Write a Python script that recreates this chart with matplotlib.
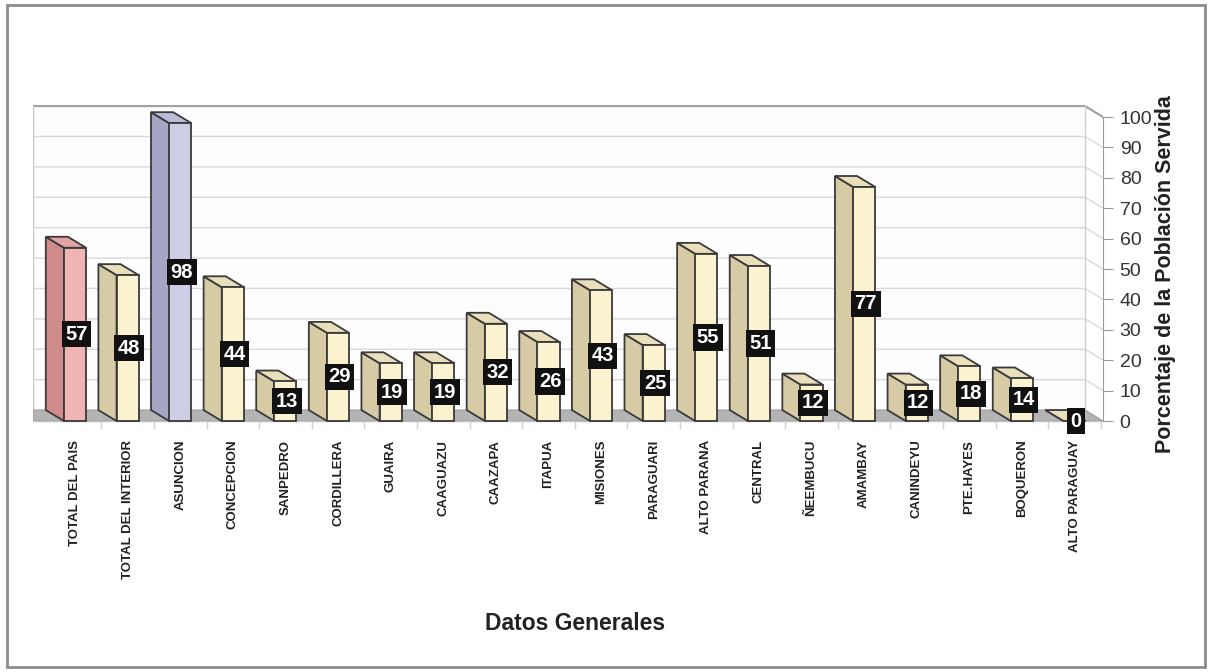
import matplotlib.pyplot as plt
from matplotlib.patches import Polygon, Rectangle
from matplotlib import font_manager as fm

# data
departamentos = ['TOTAL DEL PAIS', 'TOTAL DEL INTERIOR', 'ASUNCION', 'CONCEPCION',
                 'SANPEDRO', 'CORDILLERA', 'GUAIRA', 'CAAGUAZU', 'CAAZAPA', 'ITAPUA',
                 'MISIONES', 'PARAGUARI', 'ALTO PARANA', 'CENTRAL', 'ÑEEMBUCU',
                 'AMAMBAY', 'CANINDEYU', 'PTE.HAYES', 'BOQUERON', 'ALTO PARAGUAY']
porcentaje = [57, 48, 98, 44, 13, 29, 19, 19, 32, 26, 43, 25, 55, 51, 12, 77, 12, 18, 14, 0]
y_ticks = list(range(0, 101, 10))

# colours: (front, side, top)
CREAM = ('#fbf3cf', '#d6cba4', '#e9dfba')
PINK = ('#f0b4b4', '#d08c8c', '#e4a4a4')
LAVENDER = ('#cdcde6', '#a6a6c4', '#bcbcd8')
bar_colors = {0: PINK, 2: LAVENDER}

# font: try a narrow one, fall back to Liberation Sans
try:
    fm.findfont('Liberation Sans Narrow', fallback_to_default=False)
    NARROW = 'Liberation Sans Narrow'
    has_narrow = True
except Exception:
    NARROW = 'Liberation Sans'
    has_narrow = False
plt.rcParams['font.family'] = ['Liberation Sans', 'DejaVu Sans']

W, H = 1212, 672
fig = plt.figure(figsize=(W / 100, H / 100), dpi=100)
fig.patch.set_facecolor('white')

# outer frame
fig.patches.append(Rectangle((7 / W, 5 / H), 1198 / W, 662 / H, transform=fig.transFigure,
                             fill=False, edgecolor='#8c8c8c', linewidth=2))

ax = fig.add_axes([33 / W, 1 - 430 / H, (1103 - 33) / W, 330 / H])
ax.set_xlim(-0.798, 19.54)
ax.set_ylim(-2.96, 105.6)

# 3d offsets (depth goes up and to the left)
dx, dy = -0.345, 3.6
bw = 0.42
x_back_right = 19.2
x_left = -0.798

# back wall
ax.add_patch(Polygon([(x_left, dy), (x_left, 100 + dy), (x_back_right, 100 + dy),
                      (x_back_right, dy)], closed=True, facecolor='#fdfdfd',
                     edgecolor='none', zorder=0))
for v in y_ticks[1:]:
    ax.plot([x_left, x_back_right, 19.54], [v + dy, v + dy, v], color='#d9d9d9', lw=1, zorder=1)
ax.plot([x_left, x_back_right, 19.54], [100 + dy, 100 + dy, 100], color='#a0a0a0', lw=1.5, zorder=1)
ax.plot([x_left, x_left], [dy, 100 + dy], color='#c8c8c8', lw=1, zorder=1)
ax.plot([x_back_right, x_back_right], [dy, 100 + dy], color='#d0d0d0', lw=1, zorder=1)

# floor
ax.add_patch(Polygon([(x_left, dy), (x_back_right, dy), (19.54, 0), (x_left, 0)],
                     closed=True, facecolor='#b4b4b4', edgecolor='#9a9a9a', lw=0.8, zorder=1))
for i in range(len(departamentos)):
    ax.plot([i + 0.5, i + 0.5], [0, -2.3], color='#d0d0d0', lw=1, zorder=1)
ax.plot([x_left, 19.54], [0, 0], color='#c0c0c0', lw=1, zorder=1)

# bars
for i, v in enumerate(porcentaje):
    front, side, top = bar_colors.get(i, CREAM)
    xl, xr = i - bw / 2, i + bw / 2
    ax.add_patch(Polygon([(xl, 0), (xl, v), (xl + dx, v + dy), (xl + dx, dy)], closed=True,
                         facecolor=side, edgecolor='#3a3a3a', lw=1.3, zorder=3))
    ax.add_patch(Polygon([(xl, v), (xr, v), (xr + dx, v + dy), (xl + dx, v + dy)], closed=True,
                         facecolor=top, edgecolor='#3a3a3a', lw=1.3, zorder=3))
    if v > 0:
        ax.add_patch(Rectangle((xl, 0), bw, v, facecolor=front, edgecolor='#3a3a3a',
                               lw=1.3, zorder=4))
    ax.text(i + 0.03, v / 2, str(v), ha='center', va='center', color='white',
            fontweight='bold', family=NARROW, fontsize=16 if has_narrow else 14.5,
            bbox=dict(boxstyle='square,pad=0.18', facecolor='#111111', edgecolor='none'),
            zorder=6)

for s in ['top', 'left', 'bottom']:
    ax.spines[s].set_visible(False)
ax.spines['right'].set_bounds(0, 100)
ax.spines['right'].set_color('#9a9a9a')
ax.yaxis.tick_right()
ax.set_yticks(y_ticks)
ax.tick_params(axis='y', length=7, color='#9a9a9a', pad=5, labelsize=16 if has_narrow else 14,
               labelcolor='#333333')
for lab in ax.get_yticklabels():
    lab.set_family(NARROW)

ax.set_xticks(range(len(departamentos)))
ax.set_xticklabels(departamentos, rotation=90, va='top', ha='center',
                   fontweight='bold', family=NARROW, fontsize=12 if has_narrow else 9.5,
                   color='#222222')
ax.tick_params(axis='x', length=0, pad=7)

fig.text(1166 / W, 1 - 274 / H, 'Porcentaje de la Población Servida', rotation=90,
         ha='center', va='center', fontsize=15.5, fontweight='bold', color='#222222')
fig.text(575 / W, 1 - 623 / H, 'Datos Generales', ha='center', va='center',
         fontsize=16.5, fontweight='bold', color='#222222')

fig.savefig('out.png', dpi=100)
